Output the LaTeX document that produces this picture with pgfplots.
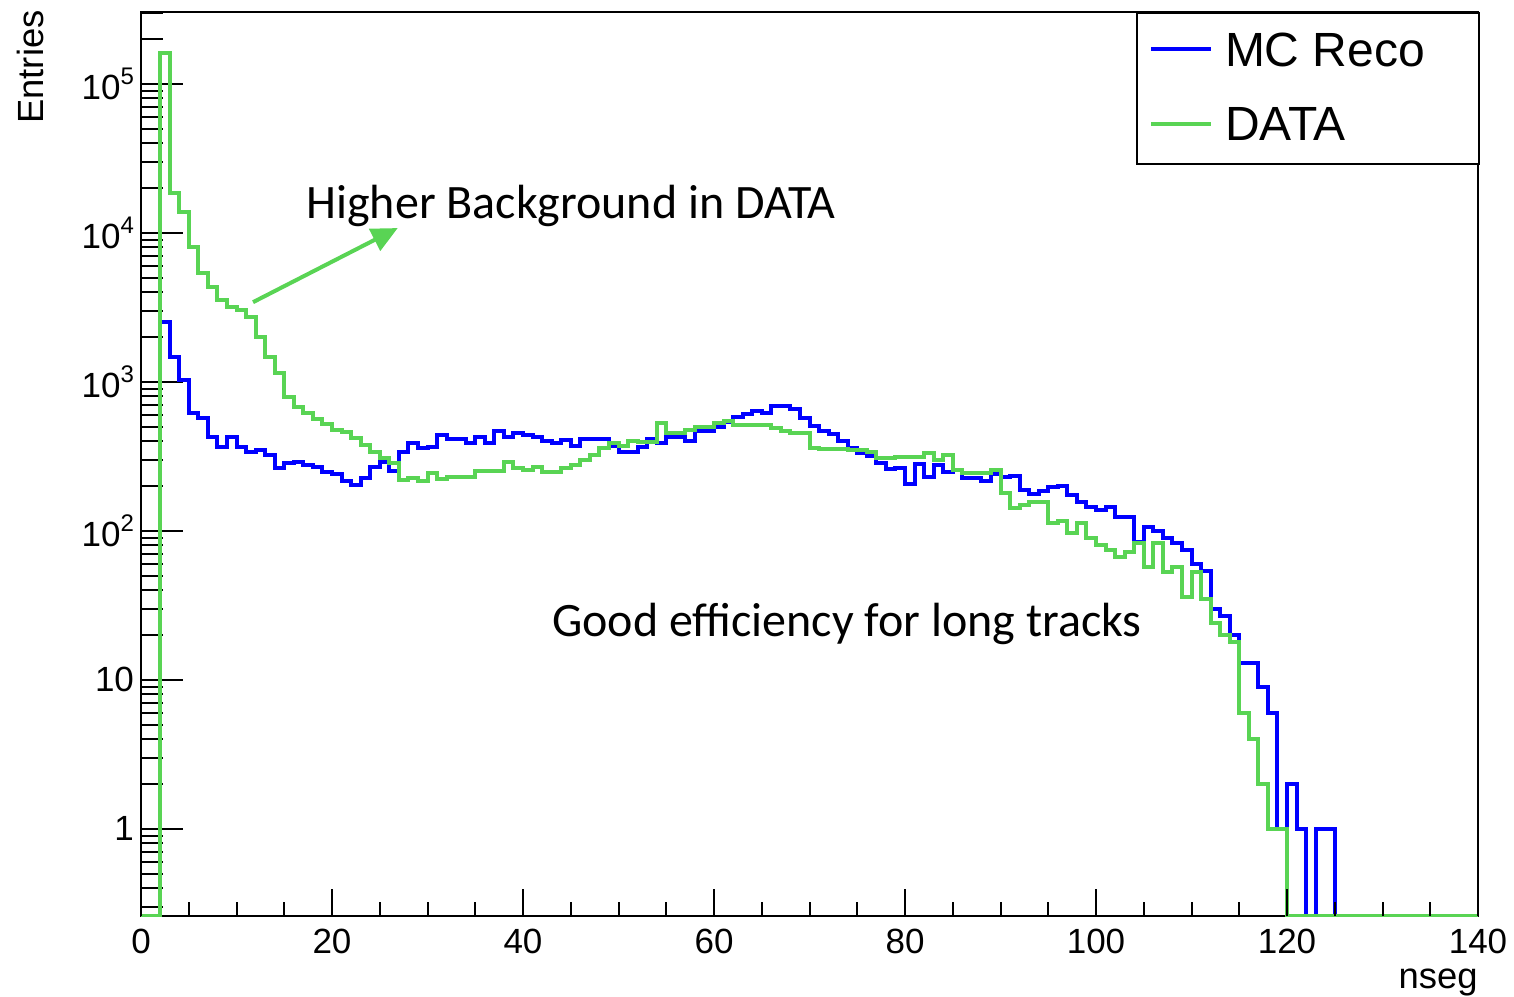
\documentclass[border=0pt]{standalone}
\usepackage{fontspec}
\setmainfont{Liberation Sans}
\newfontfamily\calibri{Carlito}
\usepackage{pgfplots}
\pgfplotsset{compat=1.18}
\usepackage{pgfplotstable}
\usetikzlibrary{arrows.meta}
\definecolor{mcblue}{RGB}{0,0,255}
\definecolor{datagreen}{RGB}{89,212,84}
\newcommand{\sups}[1]{\raisebox{0.42em}{\fontsize{12}{12}\selectfont #1}}

\pgfplotstableread{
x mc data
0 0.26 0.26
1 0.26 0.26
2 2530 161000
3 1470 18500
4 1030 13800
5 619 8050
6 573 5390
7 428 4340
8 366 3550
9 428 3190
10 366 3040
11 339 2730
12 350 2000
13 324 1470
14 265 1150
15 286 793
16 290 679
17 277 619
18 269 565
19 249 522
20 241 476
21 217 462
22 204 421
23 227 378
24 269 339
25 290 309
26 253 286
27 339 220
28 390 227
29 361 217
30 366 245
31 441 223
32 414 230
33 414 230
34 390 230
35 428 253
36 390 253
37 469 253
38 428 290
39 455 265
40 441 257
41 428 269
42 402 249
43 390 249
44 408 265
45 372 277
46 414 300
47 414 324
48 414 361
49 372 390
50 339 372
51 339 402
52 366 396
53 414 396
54 390 531
55 428 455
56 428 455
57 402 476
58 469 499
59 469 499
60 499 531
61 539 547
62 582 514
63 610 514
64 639 514
65 619 514
66 690 491
67 690 469
68 659 455
69 573 455
70 507 361
71 469 355
72 448 355
73 402 355
74 361 350
75 334 350
76 319 339
77 286 309
78 261 309
79 265 314
80 207 314
81 282 314
82 230 334
83 277 300
84 249 324
85 257 257
86 227 245
87 227 245
88 217 245
89 241 257
90 230 180
91 234 143
92 188 149
93 177 157
94 186 157
95 197 113
96 201 117
97 174 97
98 157 113
99 145 90
100 138 80
101 145 75
102 124 67
103 124 72
104 84 83
105 106 57
106 100 83
107 90 53
108 83 57
109 75 36
110 60 53
111 54 35
112 30 24
113 27 20
114 20 18
115 13 6
116 13 4
117 9 2
118 6 1
119 1 1
120 2 0.26
121 1 0.26
122 0.26 0.26
123 1 0.26
124 1 0.26
125 0.26 0.26
126 0.26 0.26
127 0.26 0.26
128 0.26 0.26
129 0.26 0.26
130 0.26 0.26
131 0.26 0.26
132 0.26 0.26
133 0.26 0.26
134 0.26 0.26
135 0.26 0.26
136 0.26 0.26
137 0.26 0.26
138 0.26 0.26
139 0.26 0.26
140 0.26 0.26
}\histtab

\begin{document}
\begin{tikzpicture}
\begin{axis}[
  scale only axis, width=668.5pt, height=452pt,
  xmin=0, xmax=140, ymode=log, ymin=0.26, ymax=3.04e5,
  axis line style={line width=1pt, black},
  xtick=\empty,
  ytick={1,10,100,1000,10000,100000},
  yticklabels={1,10,10\sups{2},10\sups{3},10\sups{4},10\sups{5}},
  minor ytick={0.3,0.4,0.5,0.6,0.7,0.8,0.9,2,3,4,5,6,7,8,9,20,30,40,50,60,70,80,90,200,300,400,500,600,700,800,900,2000,3000,4000,5000,6000,7000,8000,9000,20000,30000,40000,50000,60000,70000,80000,90000,200000,300000},
  ytick pos=left, tick align=inside,
  major tick length=21pt, minor tick length=11pt,
  tick style={line width=1pt, black},
  yticklabel style={font=\fontsize{17.5}{17.5}\selectfont},
  legend style={at={(rel axis cs:1,1)}, anchor=north east, xshift=1pt, draw=black, line width=1pt,
    inner xsep=6pt, inner ysep=10pt, font=\fontsize{24}{28}\selectfont, cells={anchor=west},
    row sep=19pt, column sep=6pt, nodes={inner sep=0pt}},
  legend image code/.code={\draw[#1] (0pt,1pt) -- (30pt,1pt);},
]
\addplot[const plot, mcblue, line width=2pt] table[x=x, y=mc] {\histtab};
\addlegendentry{\makebox[121pt][l]{MC Reco}}
\addplot[const plot, datagreen, line width=2pt] table[x=x, y=data] {\histtab};
\addlegendentry{\makebox[121pt][l]{DATA}}
\draw[datagreen, line width=2pt, -{Triangle[length=13pt,width=12pt]}] (rel axis cs:0.0838,0.679) -- (rel axis cs:0.192,0.761);
\node[font=\calibri\fontsize{24}{28}\selectfont, anchor=base, inner sep=0pt] at (rel axis cs:0.3216,0.772) {Higher Background in DATA};
\node[font=\calibri\fontsize{24}{28}\selectfont, anchor=base, inner sep=0pt] at (rel axis cs:0.528,0.3097) {Good efficiency for long tracks};
\coordinate (TL) at (rel axis cs:0,1);
\coordinate (BR) at (rel axis cs:1,0);
\end{axis}
\begin{axis}[
  scale only axis, width=668.5pt, height=452pt,
  xmin=0, xmax=140, ymin=0, ymax=1,
  axis line style={draw=none},
  ytick=\empty,
  xtick={0,20,...,140}, minor x tick num=3,
  xtick pos=bottom, tick align=inside,
  major tick length=13.5pt, minor tick length=7pt,
  tick style={line width=1pt, black},
  /pgf/number format/assume math mode=true,
  xticklabel style={font=\fontsize{17.5}{17.5}\selectfont, yshift=-3pt},
]
\end{axis}
\node[rotate=90, anchor=east, inner sep=0pt, font=\fontsize{18.2}{18}\selectfont] at ([shift={(-55.5pt,1pt)}]TL) {Entries};
\node[anchor=base east, inner sep=0pt, font=\fontsize{18.2}{18}\selectfont] at ([shift={(0pt,-36pt)}]BR) {nseg};
\path ([shift={(-70.5pt,6pt)}]TL) rectangle ([shift={(18pt,-40pt)}]BR);
\end{tikzpicture}
\end{document}
